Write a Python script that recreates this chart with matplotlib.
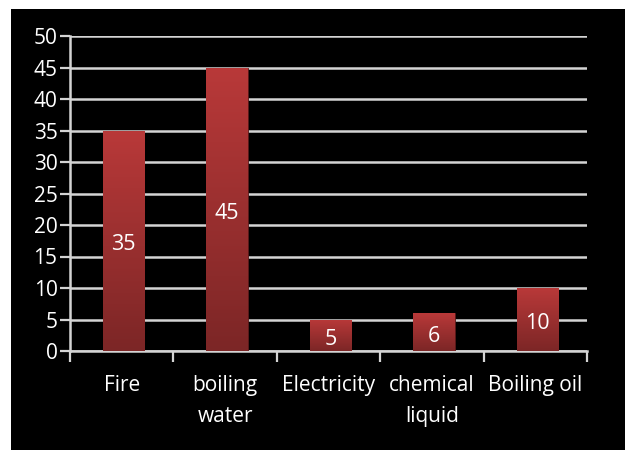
import numpy as np
import matplotlib
matplotlib.use("Agg")
import matplotlib.pyplot as plt
from matplotlib.colors import LinearSegmentedColormap

# values
categories = ["Fire", "boiling\nwater", "Electricity", "chemical\nliquid", "Boiling oil"]
values = [35, 45, 5, 6, 10]
yticks = [0, 5, 10, 15, 20, 25, 30, 35, 40, 45, 50]

plt.rcParams['font.family'] = ['Open Sans', 'DejaVu Sans']

fig = plt.figure(figsize=(6.25, 4.5), dpi=100, facecolor="white")
# black panel
fig.patches.append(plt.Rectangle((11 / 625, 0), 1, 1 - 9 / 450, transform=fig.transFigure,
                                 facecolor="black", zorder=-10))
ax = fig.add_axes([70 / 625, 1 - 351 / 450, 517 / 625, 315 / 450])
ax.set_facecolor("black")

x = np.arange(len(categories))
bars = ax.bar(x + 0.02, values, width=0.4, color="#a33030", edgecolor="#5a1a1a", linewidth=0.6, zorder=3)

# vertical red gradient inside each bar
cmap = LinearSegmentedColormap.from_list("redgrad", ["#7c2626", "#b93939"])
grad = np.linspace(0, 1, 256).reshape(-1, 1)
for b in bars:
    x0, y0 = b.get_x(), b.get_y()
    w, h = b.get_width(), b.get_height()
    im = ax.imshow(grad, cmap=cmap, origin="lower", aspect="auto",
                   extent=[x0, x0 + w, y0, y0 + h], zorder=3.5)
    im.set_clip_path(b)

for b, v in zip(bars, values):
    ax.annotate(str(v), (b.get_x() + b.get_width() / 2, v / 2), xytext=(0, -3),
                textcoords="offset points", ha="center", va="center",
                color="white", fontsize=15.5, zorder=5)

ax.set_xlim(-0.5, len(categories) - 0.5)
ax.set_ylim(0, 50)
ax.set_yticks(yticks)
ax.grid(axis="y", color="#d4d4d4", linewidth=1.8, zorder=1)
ax.set_axisbelow(True)

# category labels centred, tick marks at category boundaries
ax.set_xticks(x)
ax.set_xticklabels(categories, color="white", fontsize=15, linespacing=1.65)
ax.set_xticks(np.arange(-0.5, len(categories)), minor=True)
ax.tick_params(axis="x", which="major", length=0, pad=17)
ax.tick_params(axis="x", which="minor", length=8, width=1.6, color="#d4d4d4", direction="out")
ax.tick_params(axis="y", length=7, width=1.6, color="#d4d4d4", labelcolor="white", labelsize=15, pad=2)

for s in ["top", "right"]:
    ax.spines[s].set_visible(False)
for s in ["left", "bottom"]:
    ax.spines[s].set_color("#d4d4d4")
    ax.spines[s].set_linewidth(1.8)

fig.savefig("out.png", dpi=100, facecolor=fig.get_facecolor())
